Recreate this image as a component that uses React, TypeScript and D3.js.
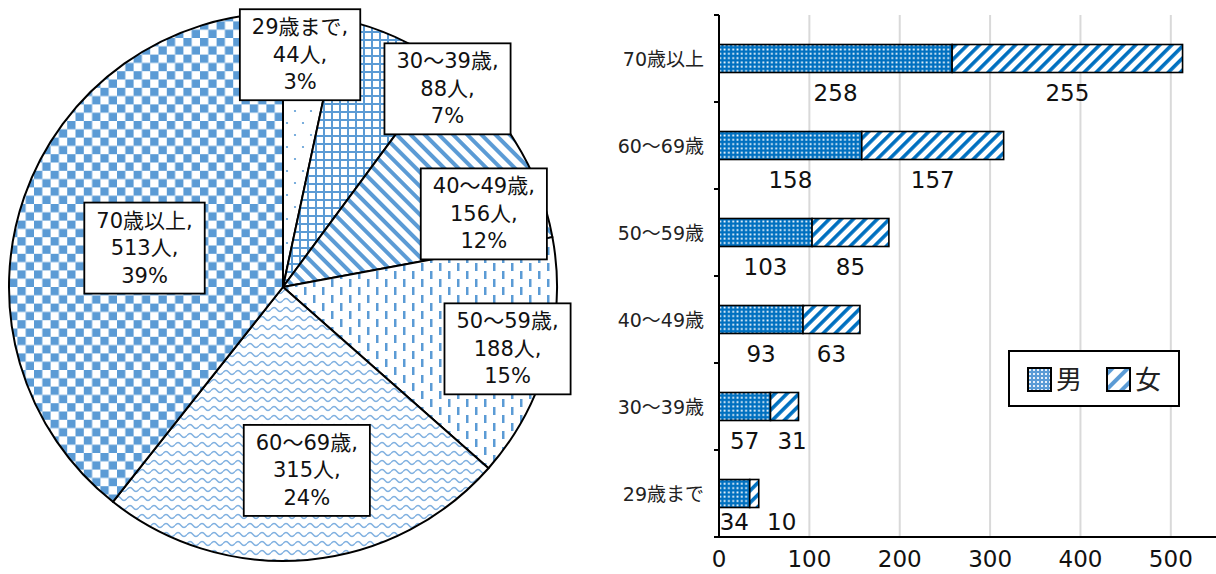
import React, { useEffect, useRef } from 'react';
import * as d3 from 'd3';

// Age groups, youngest first
const ageGroups = ['29歳まで', '30～39歳', '40～49歳', '50～59歳', '60～69歳', '70歳以上'];
const male = [34, 57, 93, 103, 158, 258];
const female = [10, 31, 63, 85, 157, 255];
const seriesNames = ['男', '女'];
const xTicks = [0, 100, 200, 300, 400, 500];

const W = 1216;
const H = 574;
const PIE_BLUE = '#5B9BD5';
const BAR_BLUE = '#0070C0';
const FONT = '"DejaVu Sans", "Noto Sans CJK JP", sans-serif';

// Pie geometry
const PIE_CX = 283;
const PIE_CY = 287;
const PIE_R = 274;

// Where each pie label box sits: angle (deg, clockwise from 12 o'clock) and radius fraction
const pieLabelLayout = [
  { angle: 4.2, r: 0.85 },
  { angle: 39.7, r: 0.94 },
  { angle: 70, r: 0.78 },
  { angle: 105.4, r: 0.85 },
  { angle: 172.6, r: 0.675 },
  { angle: 285.7, r: 0.525 },
];
const pieFills = ['pDots', 'pGrid', 'pDiagDown', 'pDash', 'pWave', 'pCheck'];

// Bar chart frame
const BAR_LEFT = 719;
const BAR_RIGHT = 1216;
const BAR_TOP = 15;
const BAR_BOTTOM = 537;
const BAR_H = 28;

// Largest-remainder rounding so the percentages add up to 100
function roundPercents(vals: number[]): number[] {
  const total = d3.sum(vals);
  const raw = vals.map((v) => (v / total) * 100);
  const out = raw.map((v) => Math.floor(v));
  const rest = 100 - d3.sum(out);
  const order = d3.range(vals.length).sort((a, b) => raw[b] - out[b] - (raw[a] - out[a]));
  for (let i = 0; i < rest; i++) out[order[i]] += 1;
  return out;
}

export default function App() {
  const ref = useRef<SVGSVGElement>(null);

  useEffect(() => {
    const svg = d3.select(ref.current!);
    svg.selectAll('*').remove();
    const defs = svg.append('defs');

    const pattern = (id: string, w: number, h: number, bg: string, transform?: string) => {
      const p = defs
        .append('pattern')
        .attr('id', id)
        .attr('patternUnits', 'userSpaceOnUse')
        .attr('width', w)
        .attr('height', h);
      if (transform) p.attr('patternTransform', transform);
      p.append('rect').attr('width', w).attr('height', h).attr('fill', bg);
      return p;
    };

    // sparse dots
    let p = pattern('pDots', 16, 24, '#fff');
    p.append('circle').attr('cx', 4).attr('cy', 4).attr('r', 1.1).attr('fill', PIE_BLUE);
    p.append('circle').attr('cx', 12).attr('cy', 16).attr('r', 1.1).attr('fill', PIE_BLUE);
    // small grid
    p = pattern('pGrid', 8, 8, '#fff');
    p.append('rect').attr('width', 8).attr('height', 2).attr('fill', PIE_BLUE);
    p.append('rect').attr('width', 2).attr('height', 8).attr('fill', PIE_BLUE);
    // wide downward diagonal
    p = pattern('pDiagDown', 10, 10, '#fff', 'rotate(45)');
    p.append('rect').attr('width', 10).attr('height', 4).attr('fill', PIE_BLUE);
    // dashed vertical
    p = pattern('pDash', 18, 16, '#fff');
    p.append('rect').attr('x', 3).attr('y', 0).attr('width', 2.5).attr('height', 8).attr('fill', PIE_BLUE);
    p.append('rect').attr('x', 12).attr('y', 8).attr('width', 2.5).attr('height', 8).attr('fill', PIE_BLUE);
    // wave
    p = pattern('pWave', 12, 9, '#fff');
    p.append('path')
      .attr('d', 'M0,4.5 Q3,0.5 6,4.5 T12,4.5')
      .attr('fill', 'none')
      .attr('stroke', '#7fb0e0')
      .attr('stroke-width', 1.3);
    // large checkerboard
    p = pattern('pCheck', 16.6, 16.6, '#fff');
    p.append('rect').attr('width', 8.3).attr('height', 8.3).attr('fill', PIE_BLUE);
    p.append('rect').attr('x', 8.3).attr('y', 8.3).attr('width', 8.3).attr('height', 8.3).attr('fill', PIE_BLUE);
    // bar: male dotted
    p = pattern('pMale', 4.3, 4.3, BAR_BLUE);
    p.append('rect').attr('x', 1.3).attr('y', 1.3).attr('width', 1.8).attr('height', 1.8).attr('fill', '#fff');
    // bar: female upward diagonal
    p = pattern('pFemale', 8.5, 8.5, '#fff', 'rotate(-45)');
    p.append('rect').attr('width', 8.5).attr('height', 3.6).attr('fill', BAR_BLUE);
    // legend swatches
    p = pattern('pMaleL', 4, 4, PIE_BLUE);
    p.append('rect').attr('x', 1).attr('y', 1).attr('width', 2).attr('height', 2).attr('fill', '#e8f0fa');
    p = pattern('pFemaleL', 11, 11, '#fff', 'rotate(-45)');
    p.append('rect').attr('width', 11).attr('height', 4).attr('fill', PIE_BLUE);

    // ---------- Pie ----------
    const totals = male.map((m, i) => m + female[i]);
    const pcts = roundPercents(totals);
    const pieData = d3.pie<number>().sort(null).value((d) => d)(totals);
    const arc = d3.arc<d3.PieArcDatum<number>>().innerRadius(0).outerRadius(PIE_R);

    const pieG = svg.append('g').attr('transform', `translate(${PIE_CX},${PIE_CY})`);
    pieG
      .selectAll('path')
      .data(pieData)
      .join('path')
      .attr('d', arc)
      .attr('fill', (_d, i) => `url(#${pieFills[i]})`)
      .attr('stroke', '#000')
      .attr('stroke-width', 2)
      .attr('stroke-linejoin', 'round');

    const lineStep = 27.5;
    pieData.forEach((d, i) => {
      const lay = pieLabelLayout[i];
      const a = (lay.angle * Math.PI) / 180;
      const cx = Math.sin(a) * PIE_R * lay.r;
      const cy = -Math.cos(a) * PIE_R * lay.r;
      const lg = pieG.append('g').attr('transform', `translate(${cx},${cy})`);
      const rect = lg.append('rect');
      const lines = [`${ageGroups[i]},`, `${d.value}人,`, `${pcts[i]}%`];
      const t = lg
        .append('text')
        .attr('font-family', FONT)
        .attr('font-size', 21)
        .attr('fill', '#111')
        .attr('text-anchor', 'middle');
      lines.forEach((s, k) => {
        t.append('tspan')
          .attr('x', 0)
          .attr('y', (k - 1) * lineStep)
          .attr('dominant-baseline', 'central')
          .text(s);
      });
      const bb = (t.node() as SVGTextElement).getBBox();
      const padX = 12;
      const boxH = 91;
      rect
        .attr('x', bb.x - padX)
        .attr('y', -boxH / 2)
        .attr('width', bb.width + padX * 2)
        .attr('height', boxH)
        .attr('fill', '#fff')
        .attr('stroke', '#000')
        .attr('stroke-width', 1.8);
    });

    // ---------- Bars ----------
    const x = d3.scaleLinear().domain([0, 550]).range([BAR_LEFT, BAR_RIGHT]);
    const rows = [...ageGroups].reverse();
    const y = d3.scaleBand<string>().domain(rows).range([BAR_TOP, BAR_BOTTOM]);
    const barG = svg.append('g');

    // grid
    barG
      .selectAll('line.grid')
      .data(xTicks.filter((t) => t > 0))
      .join('line')
      .attr('class', 'grid')
      .attr('x1', (t) => x(t))
      .attr('x2', (t) => x(t))
      .attr('y1', BAR_TOP)
      .attr('y2', BAR_BOTTOM)
      .attr('stroke', '#d9d9d9')
      .attr('stroke-width', 2);

    const rowData = ageGroups.map((g, i) => ({ g, m: male[i], f: female[i] }));
    const center = (g: string) => (y(g) as number) + y.bandwidth() / 2;

    barG
      .selectAll('rect.male')
      .data(rowData)
      .join('rect')
      .attr('class', 'male')
      .attr('x', x(0))
      .attr('y', (d) => center(d.g) - BAR_H / 2)
      .attr('width', (d) => x(d.m) - x(0))
      .attr('height', BAR_H)
      .attr('fill', 'url(#pMale)')
      .attr('stroke', '#000')
      .attr('stroke-width', 1.6);

    barG
      .selectAll('rect.female')
      .data(rowData)
      .join('rect')
      .attr('class', 'female')
      .attr('x', (d) => x(d.m))
      .attr('y', (d) => center(d.g) - BAR_H / 2)
      .attr('width', (d) => x(d.m + d.f) - x(d.m))
      .attr('height', BAR_H)
      .attr('fill', 'url(#pFemale)')
      .attr('stroke', '#000')
      .attr('stroke-width', 1.6);

    // value labels below each segment, pushed apart when they would collide
    rowData.forEach((d) => {
      const ly = Math.min(center(d.g) + 34, BAR_BOTTOM - 15);
      const mt = barG
        .append('text')
        .attr('x', x(d.m / 2))
        .attr('y', ly)
        .attr('dominant-baseline', 'central')
        .attr('text-anchor', 'middle')
        .attr('font-family', FONT)
        .attr('font-size', 23)
        .attr('fill', '#111')
        .text(d.m);
      const mw = (mt.node() as SVGTextElement).getComputedTextLength();
      const mRight = x(d.m / 2) + mw / 2;
      const ft = barG
        .append('text')
        .attr('y', ly)
        .attr('dominant-baseline', 'central')
        .attr('text-anchor', 'middle')
        .attr('font-family', FONT)
        .attr('font-size', 23)
        .attr('fill', '#111')
        .text(d.f);
      const fw = (ft.node() as SVGTextElement).getComputedTextLength();
      let fx = x(d.m + d.f / 2);
      if (fx - fw / 2 < mRight + 18) fx = mRight + 18 + fw / 2;
      ft.attr('x', fx);
    });

    // axes
    barG
      .append('line')
      .attr('x1', BAR_LEFT)
      .attr('x2', BAR_LEFT)
      .attr('y1', BAR_TOP)
      .attr('y2', BAR_BOTTOM)
      .attr('stroke', '#000')
      .attr('stroke-width', 2);
    barG
      .append('line')
      .attr('x1', BAR_LEFT - 5)
      .attr('x2', BAR_RIGHT)
      .attr('y1', BAR_BOTTOM)
      .attr('y2', BAR_BOTTOM)
      .attr('stroke', '#000')
      .attr('stroke-width', 2);
    const boundaries = rows.map((g) => y(g) as number).concat([BAR_BOTTOM]);
    barG
      .selectAll('line.ytick')
      .data(boundaries)
      .join('line')
      .attr('class', 'ytick')
      .attr('x1', BAR_LEFT - 5)
      .attr('x2', BAR_LEFT)
      .attr('y1', (v) => v)
      .attr('y2', (v) => v)
      .attr('stroke', '#000')
      .attr('stroke-width', 2);

    barG
      .selectAll('text.cat')
      .data(rows)
      .join('text')
      .attr('class', 'cat')
      .attr('x', BAR_LEFT - 15)
      .attr('y', (g) => center(g))
      .attr('dominant-baseline', 'central')
      .attr('text-anchor', 'end')
      .attr('font-family', FONT)
      .attr('font-size', 19)
      .attr('fill', '#222')
      .text((g) => g);

    barG
      .selectAll('text.xtick')
      .data(xTicks)
      .join('text')
      .attr('class', 'xtick')
      .attr('x', (t) => x(t))
      .attr('y', 559)
      .attr('dominant-baseline', 'central')
      .attr('text-anchor', 'middle')
      .attr('font-family', FONT)
      .attr('font-size', 23)
      .attr('fill', '#111')
      .text((t) => t);

    // legend
    const leg = svg.append('g');
    leg
      .append('rect')
      .attr('x', 1009)
      .attr('y', 351)
      .attr('width', 170)
      .attr('height', 55)
      .attr('fill', '#fff')
      .attr('stroke', '#000')
      .attr('stroke-width', 2);
    const legFills = ['pMaleL', 'pFemaleL'];
    seriesNames.forEach((name, i) => {
      const lx = 1028 + i * 79;
      leg
        .append('rect')
        .attr('x', lx)
        .attr('y', 368)
        .attr('width', 23)
        .attr('height', 23)
        .attr('fill', `url(#${legFills[i]})`)
        .attr('stroke', '#000')
        .attr('stroke-width', 2);
      leg
        .append('text')
        .attr('x', lx + 28)
        .attr('y', 380)
        .attr('dominant-baseline', 'central')
        .attr('font-family', FONT)
        .attr('font-size', 26)
        .attr('fill', '#222')
        .text(name);
    });
  }, []);

  return (
    <svg
      ref={ref}
      width={W}
      height={H}
      style={{ position: 'absolute', left: 0, top: 0, background: '#fff' }}
    />
  );
}
